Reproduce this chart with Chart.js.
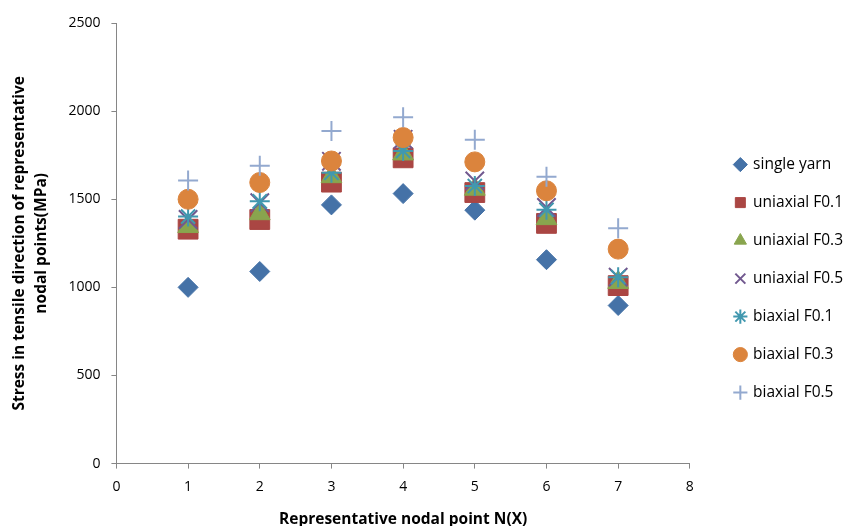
<!DOCTYPE html>
<html>
<head>
<meta charset="utf-8">
<script src="https://cdn.jsdelivr.net/npm/chart.js@4/dist/chart.umd.min.js"></script>
<style>
  html, body { margin: 0; padding: 0; background: #fff; }
  #wrap { width: 845px; height: 526px; }
</style>
</head>
<body>
<div id="wrap"><canvas id="chart"></canvas></div>
<script>
// nodal points N(X)
const nodes = [1, 2, 3, 4, 5, 6, 7];

// stress values (MPa)
const singleYarn   = [1000, 1090, 1468, 1532, 1438, 1157, 897];
const uniaxialF01  = [1330, 1385, 1597, 1735, 1538, 1363, 1010];
const uniaxialF03  = [1345, 1418, 1628, 1757, 1557, 1390, 1028];
const uniaxialF05  = [1385, 1480, 1715, 1840, 1604, 1453, 1058];
const biaxialF01   = [1402, 1488, 1650, 1774, 1575, 1440, 1058];
const biaxialF03   = [1500, 1595, 1717, 1850, 1712, 1548, 1217];
const biaxialF05   = [1607, 1690, 1887, 1965, 1837, 1628, 1336];

const yTicks = [0, 500, 1000, 1500, 2000, 2500];

const toPoints = vals => vals.map((v, i) => ({ x: nodes[i], y: v }));

const series = [
  { label: 'single yarn',    data: singleYarn,  color: '#4572A7', style: 'rectRot',  r: 10 },
  { label: 'uniaxial F0.1',  data: uniaxialF01, color: '#AA4643', style: 'rect',     r: 14 },
  { label: 'uniaxial F0.3',  data: uniaxialF03, color: '#89A54E', style: 'triangle', r: 12 },
  { label: 'uniaxial F0.5',  data: uniaxialF05, color: '#71588F', style: 'crossRot', r: 13 },
  { label: 'biaxial F0.1',   data: biaxialF01,  color: '#4198AF', style: 'star',     r: 10 },
  { label: 'biaxial F0.3',   data: biaxialF03,  color: '#DB843D', style: 'circle',   r: 10 },
  { label: 'biaxial F0.5',   data: biaxialF05,  color: '#93A9CF', style: 'cross',    r: 10 }
];

const axisGray = '#868686';
const font = '"Open Sans", sans-serif';

const config = {
  type: 'scatter',
  data: {
    datasets: series.map((s, i) => ({
      label: s.label,
      data: toPoints(s.data),
      pointStyle: s.style,
      pointRadius: s.r,
      pointHoverRadius: s.r,
      backgroundColor: s.color,
      borderColor: s.color,
      pointBorderWidth: (s.style === 'cross' || s.style === 'crossRot' || s.style === 'star') ? 2 : 1,
      order: series.length - i   // later series drawn on top, like the original
    }))
  },
  options: {
    responsive: true,
    maintainAspectRatio: false,
    animation: false,
    layout: { padding: { top: 23, right: -8, bottom: -3, left: 9 } },
    plugins: {
      tooltip: { enabled: false },
      legend: {
        position: 'right',
        title: { display: true, text: '', padding: { top: 4, bottom: 0 }, font: { size: 1 } },
        labels: {
          usePointStyle: true,
          boxWidth: 10,
          boxHeight: 10,
          padding: 22.5,
          color: '#000',
          font: { family: font, size: 15.5 },
          sort: (a, b) => a.datasetIndex - b.datasetIndex
        }
      }
    },
    scales: {
      x: {
        type: 'linear',
        min: 0,
        max: 8,
        ticks: { stepSize: 1, color: '#000', font: { family: font, size: 14 }, padding: 10 },
        grid: { drawOnChartArea: false, drawTicks: true, tickLength: 5, color: axisGray },
        border: { color: axisGray, width: 1 },
        title: {
          display: true,
          text: 'Representative nodal point N(X)',
          color: '#000',
          font: { family: font, size: 15.5, weight: 'bold' },
          padding: { top: 5, bottom: 0 }
        }
      },
      y: {
        min: 0,
        max: 2500,
        afterBuildTicks: axis => { axis.ticks = yTicks.map(v => ({ value: v })); },
        ticks: { color: '#000', font: { family: font, size: 14 }, padding: 11, callback: v => String(v) },
        grid: { drawOnChartArea: false, drawTicks: true, tickLength: 5, color: axisGray },
        border: { color: axisGray, width: 1 },
        title: {
          display: true,
          text: ['Stress in tensile direction of representative', 'nodal points(MPa)'],
          color: '#000',
          font: { family: font, size: 15.5, weight: 'bold', lineHeight: 1.4 },
          padding: { top: 0, bottom: 5 }
        }
      },
      gap: {
        // empty axis that only keeps the legend away from the plot
        type: 'linear',
        axis: 'y',
        position: 'right',
        display: true,
        ticks: { display: false },
        grid: { display: false },
        border: { display: false },
        afterFit: s => { s.width = 23; }
      }
    }
  }
};

new Chart(document.getElementById('chart'), config);
</script>
</body>
</html>
